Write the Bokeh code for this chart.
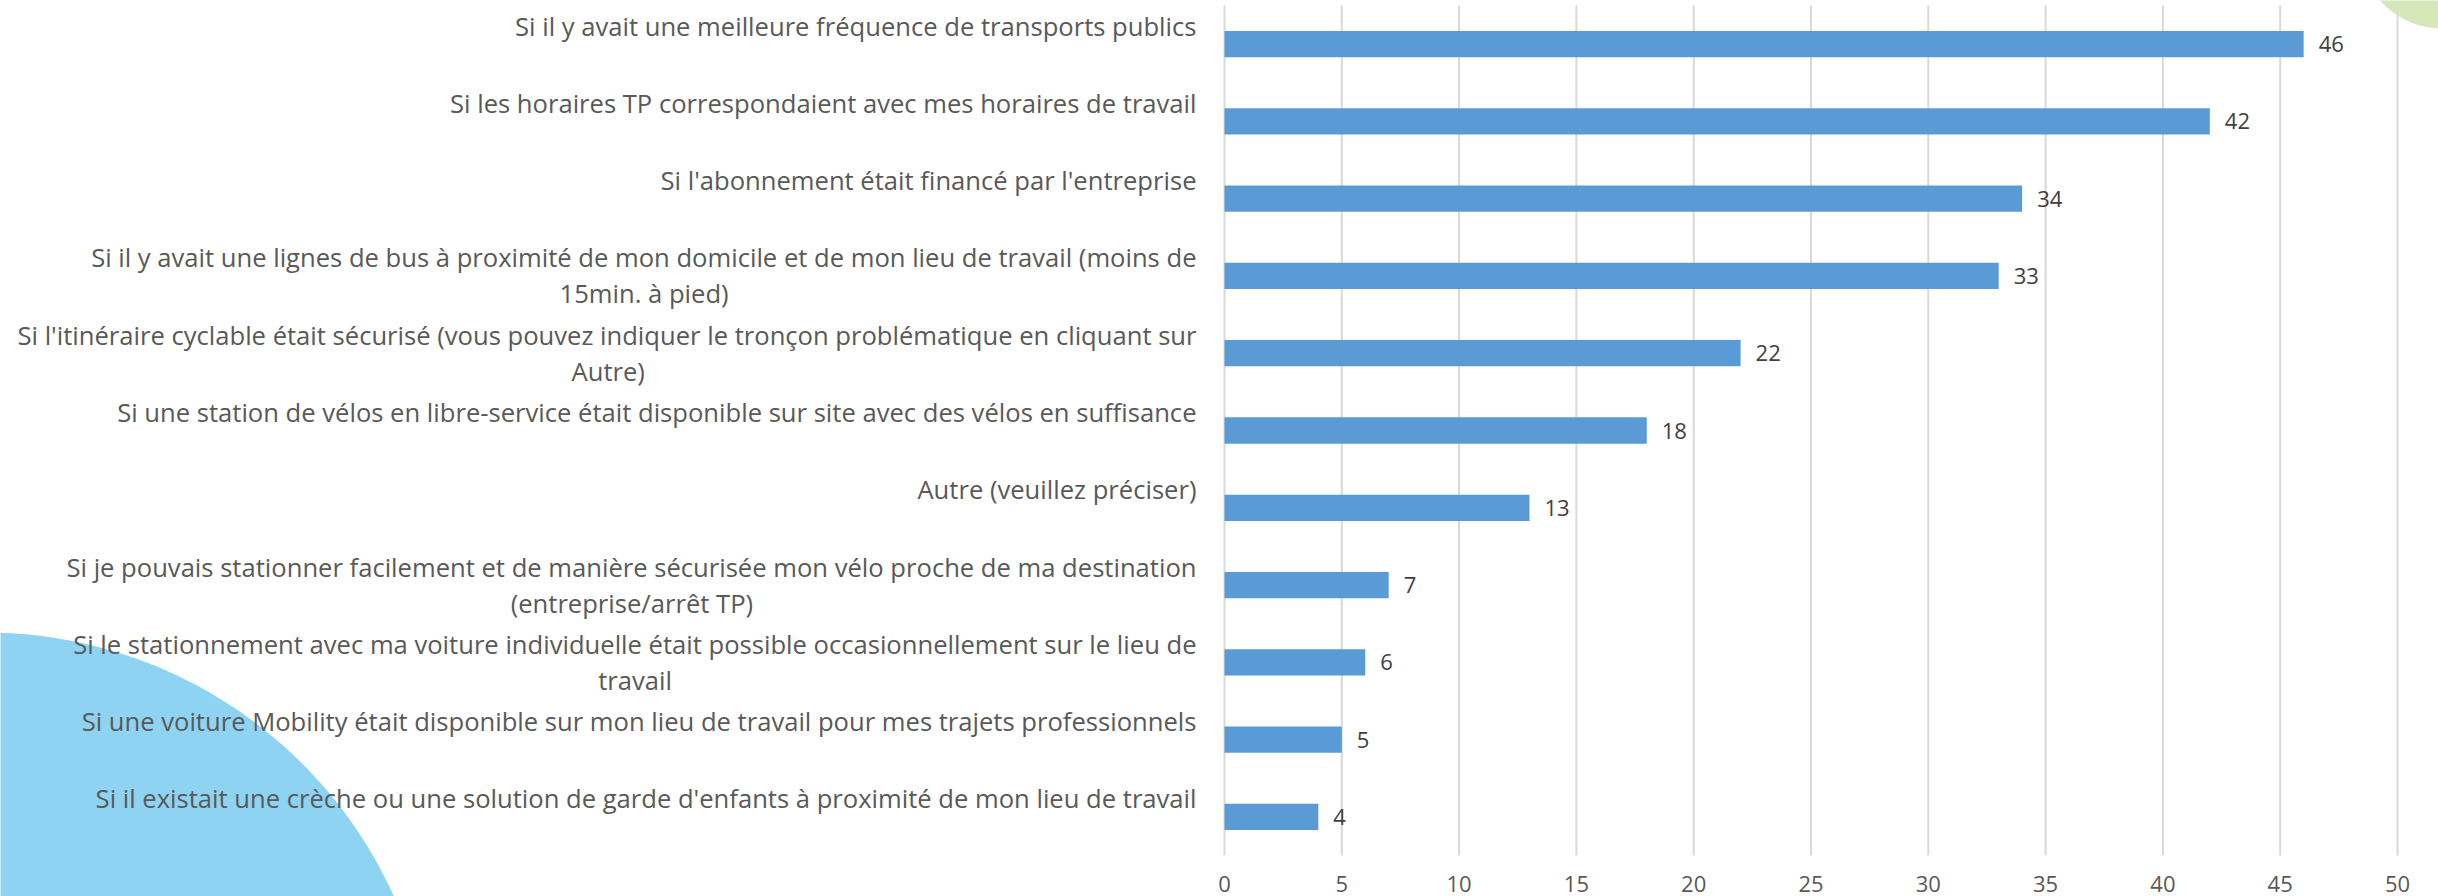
import glob
import numpy as np
from bokeh.plotting import figure
from bokeh.models import Range1d
from bokeh.core.properties import value
from bokeh.embed import file_html
from bokeh.resources import INLINE

# ---------------- data ----------------
categories = [
    "Si il y avait une meilleure fréquence de transports publics",
    "Si les horaires TP correspondaient avec mes horaires de travail",
    "Si l'abonnement était financé par l'entreprise",
    "Si il y avait une lignes de bus à proximité de mon domicile et de mon lieu de travail (moins de\n15min. à pied)",
    "Si l'itinéraire cyclable était sécurisé (vous pouvez indiquer le tronçon problématique en cliquant sur\nAutre)",
    "Si une station de vélos en libre-service était disponible sur site avec des vélos en suffisance",
    "Autre (veuillez préciser)",
    "Si je pouvais stationner facilement et de manière sécurisée mon vélo proche de ma destination\n(entreprise/arrêt TP)",
    "Si le stationnement avec ma voiture individuelle était possible occasionnellement sur le lieu de\ntravail",
    "Si une voiture Mobility était disponible sur mon lieu de travail pour mes trajets professionnels",
    "Si il existait une crèche ou une solution de garde d'enfants à proximité de mon lieu de travail",
]
values = [46, 42, 34, 33, 22, 18, 13, 7, 6, 5, 4]
x_ticks = [0, 5, 10, 15, 20, 25, 30, 35, 40, 45, 50]
x_tick_labels = ["0", "5", "10", "15", "20", "25", "30", "35", "40", "45", "50"]

# ---------------- layout ----------------
W, H = 2438, 896
FONT = "Open Sans"
CAT_SIZE = 25.6
NUM_SIZE = 22
X0_PX, X50_PX = 1224, 2397          # pixel position of 0 and of the axis max
PLOT_TOP_PX, PLOT_BOTTOM_PX = 5, 855
n = len(categories)
px_per_x = (X50_PX - X0_PX) / x_ticks[-1]
x_start = -X0_PX / px_per_x
x_end = x_start + W / px_per_x
px_per_y = (PLOT_BOTTOM_PX - PLOT_TOP_PX) / n
y_top = -0.5 - PLOT_TOP_PX / px_per_y
y_bottom = y_top + H / px_per_y


def fx(px):
    return x_start + px / px_per_x


def fy(py):
    return y_top + py / px_per_y


def text_width(s, size):
    try:
        from PIL import ImageFont
        paths = sorted(glob.glob("/usr/share/fonts/**/OpenSans*.ttf", recursive=True))
        paths = [p_ for p_ in paths if "Italic" not in p_]
        pref = [p_ for p_ in paths if "Regular" in p_] or paths
        f = ImageFont.truetype(pref[0], size)
        return f.getlength(s)
    except Exception:
        return 0.5 * size * len(s)


p = figure(width=W, height=H, x_range=Range1d(x_start, x_end),
           y_range=Range1d(y_bottom, y_top),
           output_backend="svg", toolbar_location=None,
           x_axis_location=None, y_axis_location=None, min_border=0)
p.grid.visible = False
p.outline_line_color = None
p.background_fill_color = "white"
p.border_fill_color = "white"


# decorative circles (page pixel geometry -> data)
def circle_patch(cx, cy, r, color):
    t = np.linspace(0, 2 * np.pi, 400)
    xs = [fx(cx + r * np.cos(a)) for a in t]
    ys = [fy(cy + r * np.sin(a)) for a in t]
    p.patch(xs, ys, fill_color=color, line_color=None)


circle_patch(-15, 1080, 448, "#8FD3F2")
circle_patch(2442, -56, 84, "#D6E8B9")

# vertical gridlines
p.segment(x0=x_ticks, y0=[-0.5] * len(x_ticks), x1=x_ticks, y1=[n - 0.5] * len(x_ticks),
          line_color="#D9D9D9", line_width=2)

idx = list(range(n))
p.hbar(y=idx, left=0, right=values, height=0.34, fill_color="#5B9BD5", line_color=None)

# value labels
p.text(x=values, y=idx, text=[str(v) for v in values], x_offset=15,
       text_align="left", text_baseline="middle", text_color="#404040",
       text_font=value(FONT), text_font_size=value(f"{NUM_SIZE}px"))

# category labels: two-line box, first line right aligned, second centred under it
l1_y, l1_t, l2_y, l2_t, l2_off = [], [], [], [], []
for i, c in enumerate(categories):
    parts = c.split("\n")
    l1_y.append(i)
    l1_t.append(parts[0])
    if len(parts) > 1:
        w = text_width(parts[0], CAT_SIZE)
        l2_y.append(i)
        l2_t.append(parts[1])
        l2_off.append(-28 - w / 2)

p.text(x=[0] * len(l1_y), y=l1_y, text=l1_t, x_offset=-28, y_offset=-18,
       text_align="right", text_baseline="middle", text_color="#595959",
       text_font=value(FONT), text_font_size=value(f"{CAT_SIZE}px"))
p.text(x=[0] * len(l2_y), y=l2_y, text=l2_t, x_offset=l2_off, y_offset=18,
       text_align="center", text_baseline="middle", text_color="#595959",
       text_font=value(FONT), text_font_size=value(f"{CAT_SIZE}px"))

# x tick labels
p.text(x=x_ticks, y=[n - 0.5] * len(x_ticks), text=x_tick_labels, y_offset=28,
       text_align="center", text_baseline="middle", text_color="#595959",
       text_font=value(FONT), text_font_size=value(f"{NUM_SIZE}px"))

open("out.html", "w").write(file_html(p, INLINE))
